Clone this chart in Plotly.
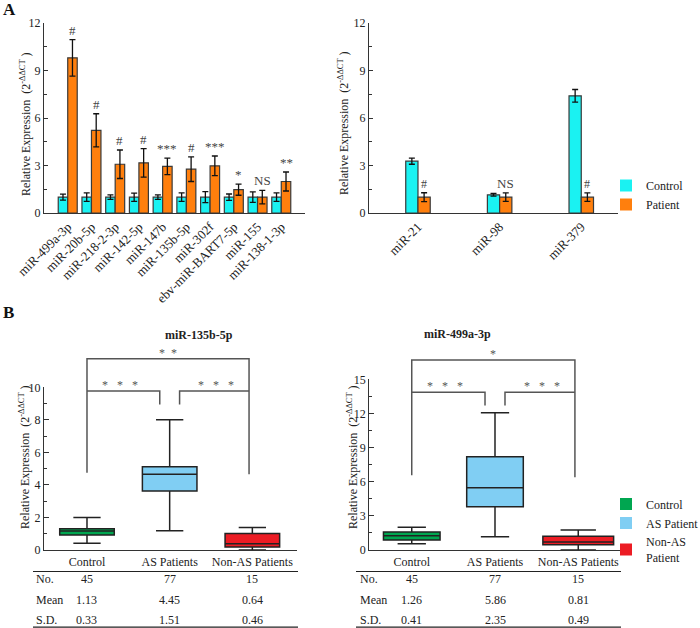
import plotly.graph_objects as go

W, H = 700, 628
FONT = "Liberation Serif"

# ---------------- Panel A data ----------------
a_left_mirs = ["miR-499a-3p", "miR-20b-5p", "miR-218-2-3p", "miR-142-5p", "miR-147b",
               "miR-135b-5p", "miR-302f", "ebv-miR-BART7-5p", "miR-155", "miR-138-1-3p"]
a_left_control = [1.0, 1.0, 1.0, 1.0, 1.0, 1.0, 1.0, 1.0, 1.0, 1.0]
a_left_control_err = [0.19, 0.27, 0.14, 0.26, 0.14, 0.27, 0.35, 0.20, 0.33, 0.27]
a_left_patient = [9.80, 5.22, 3.08, 3.17, 2.94, 2.77, 2.98, 1.47, 1.00, 1.99]
a_left_patient_err = [1.15, 1.05, 0.90, 0.90, 0.52, 0.78, 0.62, 0.35, 0.43, 0.60]
a_left_sig = ["#", "#", "#", "#", "***", "#", "***", "*", "NS", "**"]

a_right_mirs = ["miR-21", "miR-98", "miR-379"]
a_right_control = [3.27, 1.15, 7.40]
a_right_control_err = [0.19, 0.08, 0.40]
a_right_patient = [1.0, 1.0, 1.0]
a_right_patient_err = [0.28, 0.27, 0.27]
a_right_sig = ["#", "NS", "#"]

a_series = ["Control", "Patient"]

# ---------------- Panel B data ----------------
b_groups = ["Control", "AS Patients", "Non-AS Patients"]
b_legend_names = ["Control", "AS Patient", "Non-AS<br>Patient"]
b_row_labels = ["No.", "Mean", "S.D."]

b1_title = "miR-135b-5p"
b1_lower = [0.41, 1.19, 0.00]
b1_q1 = [0.92, 3.63, 0.18]
b1_median = [1.17, 4.65, 0.39]
b1_q3 = [1.31, 5.12, 1.02]
b1_upper = [1.99, 8.01, 1.39]
b1_n = ["45", "77", "15"]
b1_mean = ["1.13", "4.45", "0.64"]
b1_sd = ["0.33", "1.51", "0.46"]
b1_sig_outer = "*  *"
b1_sig_inner = "*   *   *"
b1_outer_level = 11.76
b1_outer_feet = [4.75, 4.65]
b1_inner_level = 9.77
b1_inner_feet = 8.95

b2_title = "miR-499a-3p"
b2_lower = [0.56, 1.17, 0.00]
b2_q1 = [0.88, 3.81, 0.47]
b2_median = [1.26, 5.48, 0.70]
b2_q3 = [1.58, 8.20, 1.20]
b2_upper = [1.99, 12.07, 1.76]
b2_n = ["45", "77", "15"]
b2_mean = ["1.26", "5.86", "0.81"]
b2_sd = ["0.41", "2.35", "0.49"]
b2_sig_outer = "*"
b2_sig_inner = "*   *   *"
b2_outer_level = 16.7
b2_outer_feet = [6.56, 6.39]
b2_inner_level = 13.86
b2_inner_feet = 12.69

# ---------------- styles ----------------
C_CYAN = "#1AF2F2"
C_ORANGE = "#FF7F0D"
B_COLORS = ["#00A650", "#80CEF3", "#EC1C24"]
AX_COL = "#333333"


def px_x(p):
    return p / W


def px_y(p):
    return 1 - p / H


fig = go.Figure()

# ---- A left bars
fig.add_trace(go.Bar(x=list(range(len(a_left_mirs))), y=a_left_control, offset=-0.4, width=0.4,
                     marker=dict(color=C_CYAN, line=dict(color="#3a3a3a", width=1.2)),
                     error_y=dict(type="data", array=a_left_control_err, color="#111", thickness=1.3, width=3),
                     xaxis="x", yaxis="y", showlegend=False, name=a_series[0]))
fig.add_trace(go.Bar(x=list(range(len(a_left_mirs))), y=a_left_patient, offset=0.0, width=0.4,
                     marker=dict(color=C_ORANGE, line=dict(color="#3a3a3a", width=1.2)),
                     error_y=dict(type="data", array=a_left_patient_err, color="#111", thickness=1.3, width=3),
                     xaxis="x", yaxis="y", showlegend=False, name=a_series[1]))
# ---- A right bars
fig.add_trace(go.Bar(x=list(range(len(a_right_mirs))), y=a_right_control, offset=-0.15, width=0.15,
                     marker=dict(color=C_CYAN, line=dict(color="#3a3a3a", width=1.2)),
                     error_y=dict(type="data", array=a_right_control_err, color="#111", thickness=1.3, width=3),
                     xaxis="x2", yaxis="y2", showlegend=False, name=a_series[0]))
fig.add_trace(go.Bar(x=list(range(len(a_right_mirs))), y=a_right_patient, offset=0.0, width=0.15,
                     marker=dict(color=C_ORANGE, line=dict(color="#3a3a3a", width=1.2)),
                     error_y=dict(type="data", array=a_right_patient_err, color="#111", thickness=1.3, width=3),
                     xaxis="x2", yaxis="y2", showlegend=False, name=a_series[1]))
# ---- A legend (dummy entries)
for name, col in zip(a_series, [C_CYAN, C_ORANGE]):
    fig.add_trace(go.Bar(x=[None], y=[None], name=name, marker=dict(color=col, line=dict(width=0)),
                         xaxis="x2", yaxis="y2", legend="legend", showlegend=True))

# ---- B boxes
b_sets = [
    ("x3", "y3", b1_lower, b1_q1, b1_median, b1_q3, b1_upper, [0.66, 0.66, 0.66]),
    ("x4", "y4", b2_lower, b2_q1, b2_median, b2_q3, b2_upper, [0.68, 0.68, 0.85]),
]
for xa, ya, lo, q1, md, q3, up, widths in b_sets:
    for i in range(len(b_groups)):
        fig.add_trace(go.Box(x=[i], lowerfence=[lo[i]], q1=[q1[i]], median=[md[i]], q3=[q3[i]],
                             upperfence=[up[i]], width=widths[i], whiskerwidth=0.5, orientation="v",
                             fillcolor=B_COLORS[i], line=dict(color="#222", width=1.5),
                             boxpoints=False, xaxis=xa, yaxis=ya, showlegend=False,
                             name=b_groups[i], hoverinfo="skip"))
for name, col in zip(b_legend_names, B_COLORS):
    fig.add_trace(go.Bar(x=[None], y=[None], name=name, marker=dict(color=col, line=dict(width=0)),
                         xaxis="x4", yaxis="y4", legend="legend2", showlegend=True))

# ---- B brackets on extended (invisible) axes sharing the box-plot data scale
brk = [
    ("x5", "y5", b1_outer_level, b1_outer_feet, b1_inner_level, b1_inner_feet, b1_sig_outer, b1_sig_inner),
    ("x6", "y6", b2_outer_level, b2_outer_feet, b2_inner_level, b2_inner_feet, b2_sig_outer, b2_sig_inner),
]
annotations = []
for xa, ya, ol, of, il, ifeet, so, si in brk:
    xl, xr = 0, 1.96
    fig.add_trace(go.Scatter(x=[xl, xl, xr, xr], y=[of[0], ol, ol, of[1]], mode="lines",
                             line=dict(color="#555", width=1.5), xaxis=xa, yaxis=ya,
                             showlegend=False, hoverinfo="skip"))
    fig.add_trace(go.Scatter(x=[xl, 1 - 0.12, 1 - 0.12], y=[il, il, ifeet], mode="lines",
                             line=dict(color="#555", width=1.5), xaxis=xa, yaxis=ya,
                             showlegend=False, hoverinfo="skip"))
    fig.add_trace(go.Scatter(x=[1 + 0.12, 1 + 0.12, xr], y=[ifeet, il, il], mode="lines",
                             line=dict(color="#555", width=1.5), xaxis=xa, yaxis=ya,
                             showlegend=False, hoverinfo="skip"))
    annotations.append(dict(x=(xl + xr) / 2, y=ol, xref=xa, yref=ya, text=so, showarrow=False,
                            yanchor="bottom", yshift=-3, font=dict(family=FONT, size=12, color="#555")))
    annotations.append(dict(x=0.4, y=il, xref=xa, yref=ya, text=si, showarrow=False,
                            yanchor="bottom", yshift=-3, font=dict(family=FONT, size=12, color="#555")))
    annotations.append(dict(x=1.56, y=il, xref=xa, yref=ya, text=si, showarrow=False,
                            yanchor="bottom", yshift=-3, font=dict(family=FONT, size=12, color="#555")))

# ---- significance marks in A
for i, s in enumerate(a_left_sig):
    annotations.append(dict(x=i + 0.2, y=a_left_patient[i] + a_left_patient_err[i], xref="x", yref="y",
                            text=s, showarrow=False, yanchor="bottom", yshift=0,
                            font=dict(family=FONT, size=13, color="#444")))
for i, s in enumerate(a_right_sig):
    annotations.append(dict(x=i + 0.075, y=a_right_patient[i] + a_right_patient_err[i], xref="x2", yref="y2",
                            text=s, showarrow=False, yanchor="bottom", yshift=0,
                            font=dict(family=FONT, size=13 if s == "NS" else 12, color="#444")))

# ---- Y titles
ytitle = "Relative Expression  (2<sup>-ΔΔCT</sup> )"
for xp, yp in [(26, 124), (343, 123), (24, 457), (352, 457)]:
    annotations.append(dict(x=px_x(xp), y=px_y(yp), xref="paper", yref="paper", text=ytitle,
                            textangle=-90, showarrow=False, xanchor="center", yanchor="middle",
                            font=dict(family=FONT, size=12, color="#222")))

# ---- panel letters and B titles
annotations.append(dict(x=px_x(1), y=px_y(10), xref="paper", yref="paper", text="<b>A</b>", showarrow=False,
                        xanchor="left", yanchor="middle", font=dict(family=FONT, size=17, color="#111")))
annotations.append(dict(x=px_x(1), y=px_y(312), xref="paper", yref="paper", text="<b>B</b>", showarrow=False,
                        xanchor="left", yanchor="middle", font=dict(family=FONT, size=17, color="#111")))
annotations.append(dict(x=px_x(163), y=px_y(335), xref="paper", yref="paper", text="<b>%s</b>" % b1_title,
                        showarrow=False, font=dict(family=FONT, size=12, color="#222")))
annotations.append(dict(x=px_x(493), y=px_y(334), xref="paper", yref="paper", text="<b>%s</b>" % b2_title,
                        showarrow=False, font=dict(family=FONT, size=12, color="#222")))

# ---- tables under B
shapes = []
tables = [
    ("x3", 34, (33, 298), [b1_n, b1_mean, b1_sd]),
    ("x4", 358, (356, 621), [b2_n, b2_mean, b2_sd]),
]
row_y = [579, 600, 620]
for xa, lab_x, (l0, l1), rows in tables:
    shapes.append(dict(type="line", xref="paper", yref="paper", x0=px_x(l0), x1=px_x(l1),
                       y0=px_y(571.5), y1=px_y(571.5), line=dict(color="#222", width=1.2)))
    shapes.append(dict(type="line", xref="paper", yref="paper", x0=px_x(l0), x1=px_x(l1),
                       y0=px_y(627.2), y1=px_y(627.2), line=dict(color="#222", width=1.2)))
    for r, (lab, vals) in enumerate(zip(b_row_labels, rows)):
        annotations.append(dict(x=px_x(lab_x), y=px_y(row_y[r]), xref="paper", yref="paper", text=lab,
                                showarrow=False, xanchor="left", yanchor="middle",
                                font=dict(family=FONT, size=12, color="#222")))
        for i, v in enumerate(vals):
            annotations.append(dict(x=i, y=px_y(row_y[r]), xref=xa, yref="paper", text=str(v),
                                    showarrow=False, xanchor="center", yanchor="middle",
                                    font=dict(family=FONT, size=12, color="#222")))

# ---------------- axes ----------------
ax_common = dict(showline=True, linecolor=AX_COL, linewidth=1.2, showgrid=False, zeroline=False,
                 tickfont=dict(family=FONT, size=12, color="#222"), fixedrange=True, automargin=False)
y_ticks_a = dict(ticks="inside", ticklen=4, tickwidth=1.2, tickcolor=AX_COL,
                 minor=dict(ticklen=2.5, tickcolor=AX_COL, ticks="inside", tickwidth=1))
y_ticks_b = dict(ticks="inside", ticklen=5, tickwidth=1.2, tickcolor=AX_COL,
                 minor=dict(ticklen=3, tickcolor=AX_COL, ticks="inside", tickwidth=1))

A_Y = [px_y(213), px_y(23)]
B1_Y = [px_y(550), px_y(387.3)]
B2_Y = [px_y(550), px_y(379.3)]


def ymerge(base, extra, minor_dtick):
    d = dict(base)
    d.update(extra)
    m = dict(d["minor"])
    m["dtick"] = minor_dtick
    d["minor"] = m
    return d


layout = dict(
    width=W, height=H, margin=dict(l=0, r=0, t=0, b=0, autoexpand=False),
    paper_bgcolor="white", plot_bgcolor="rgba(0,0,0,0)", barmode="overlay",
    font=dict(family=FONT, size=12, color="#222"),
    xaxis=dict(ax_common, domain=[px_x(44), px_x(305)], range=[-1, 10], type="linear",
               tickvals=list(range(len(a_left_mirs))), ticktext=a_left_mirs, tickangle=-45,
               ticks="", tickfont=dict(family=FONT, size=13, color="#222"), anchor="y"),
    yaxis=ymerge(dict(ax_common, domain=A_Y, range=[0, 12], dtick=3, anchor="x"), y_ticks_a, 1.5),
    xaxis2=dict(ax_common, domain=[px_x(369), px_x(618)], range=[-0.6, 2.45], type="linear",
                tickvals=list(range(len(a_right_mirs))), ticktext=a_right_mirs, tickangle=-45,
                ticks="", tickfont=dict(family=FONT, size=13, color="#222"), anchor="y2"),
    yaxis2=ymerge(dict(ax_common, domain=A_Y, range=[0, 12], dtick=3, anchor="x2"), y_ticks_a, 1.5),
    xaxis3=dict(ax_common, domain=[px_x(44), px_x(297)], range=[-0.52, 2.54], type="linear",
                tickvals=list(range(len(b_groups))), ticktext=b_groups, ticks="",
                tickfont=dict(family=FONT, size=12, color="#222"), anchor="y3"),
    yaxis3=ymerge(dict(ax_common, domain=B1_Y, range=[0, 10], dtick=2, anchor="x3"), y_ticks_b, 1),
    xaxis4=dict(ax_common, domain=[px_x(369.3), px_x(620.7)], range=[-0.51, 2.51], type="linear",
                tickvals=list(range(len(b_groups))), ticktext=b_groups, ticks="",
                tickfont=dict(family=FONT, size=12, color="#222"), anchor="y4"),
    yaxis4=ymerge(dict(ax_common, domain=B2_Y, range=[0, 15], dtick=3, anchor="x4"), y_ticks_b, 1.5),
    legend=dict(x=px_x(606), y=px_y(195), xanchor="left", yanchor="middle", bgcolor="rgba(0,0,0,0)",
                font=dict(family=FONT, size=12, color="#222"), tracegroupgap=0),
    legend2=dict(x=px_x(606), y=px_y(531), xanchor="left", yanchor="middle", bgcolor="rgba(0,0,0,0)",
                 font=dict(family=FONT, size=12, color="#222"), tracegroupgap=0),
    annotations=annotations, shapes=shapes,
)

# extended invisible axes for the significance brackets (same data scale as the box axes)
top_ext1 = 328.0
top_ext2 = 318.0
layout["xaxis5"] = dict(domain=layout["xaxis3"]["domain"], range=layout["xaxis3"]["range"], visible=False,
                        anchor="y5", fixedrange=True)
layout["yaxis5"] = dict(domain=[px_y(550), px_y(top_ext1)], range=[0, 10 * (550 - top_ext1) / (550 - 387.3)],
                        visible=False, anchor="x5", fixedrange=True)
layout["xaxis6"] = dict(domain=layout["xaxis4"]["domain"], range=layout["xaxis4"]["range"], visible=False,
                        anchor="y6", fixedrange=True)
layout["yaxis6"] = dict(domain=[px_y(550), px_y(top_ext2)], range=[0, 15 * (550 - top_ext2) / (550 - 379.3)],
                        visible=False, anchor="x6", fixedrange=True)

fig.update_layout(**layout)
fig.write_html("out.html", config={"displayModeBar": False},
               post_script="document.body.style.margin='0';document.body.style.overflow='hidden';")
